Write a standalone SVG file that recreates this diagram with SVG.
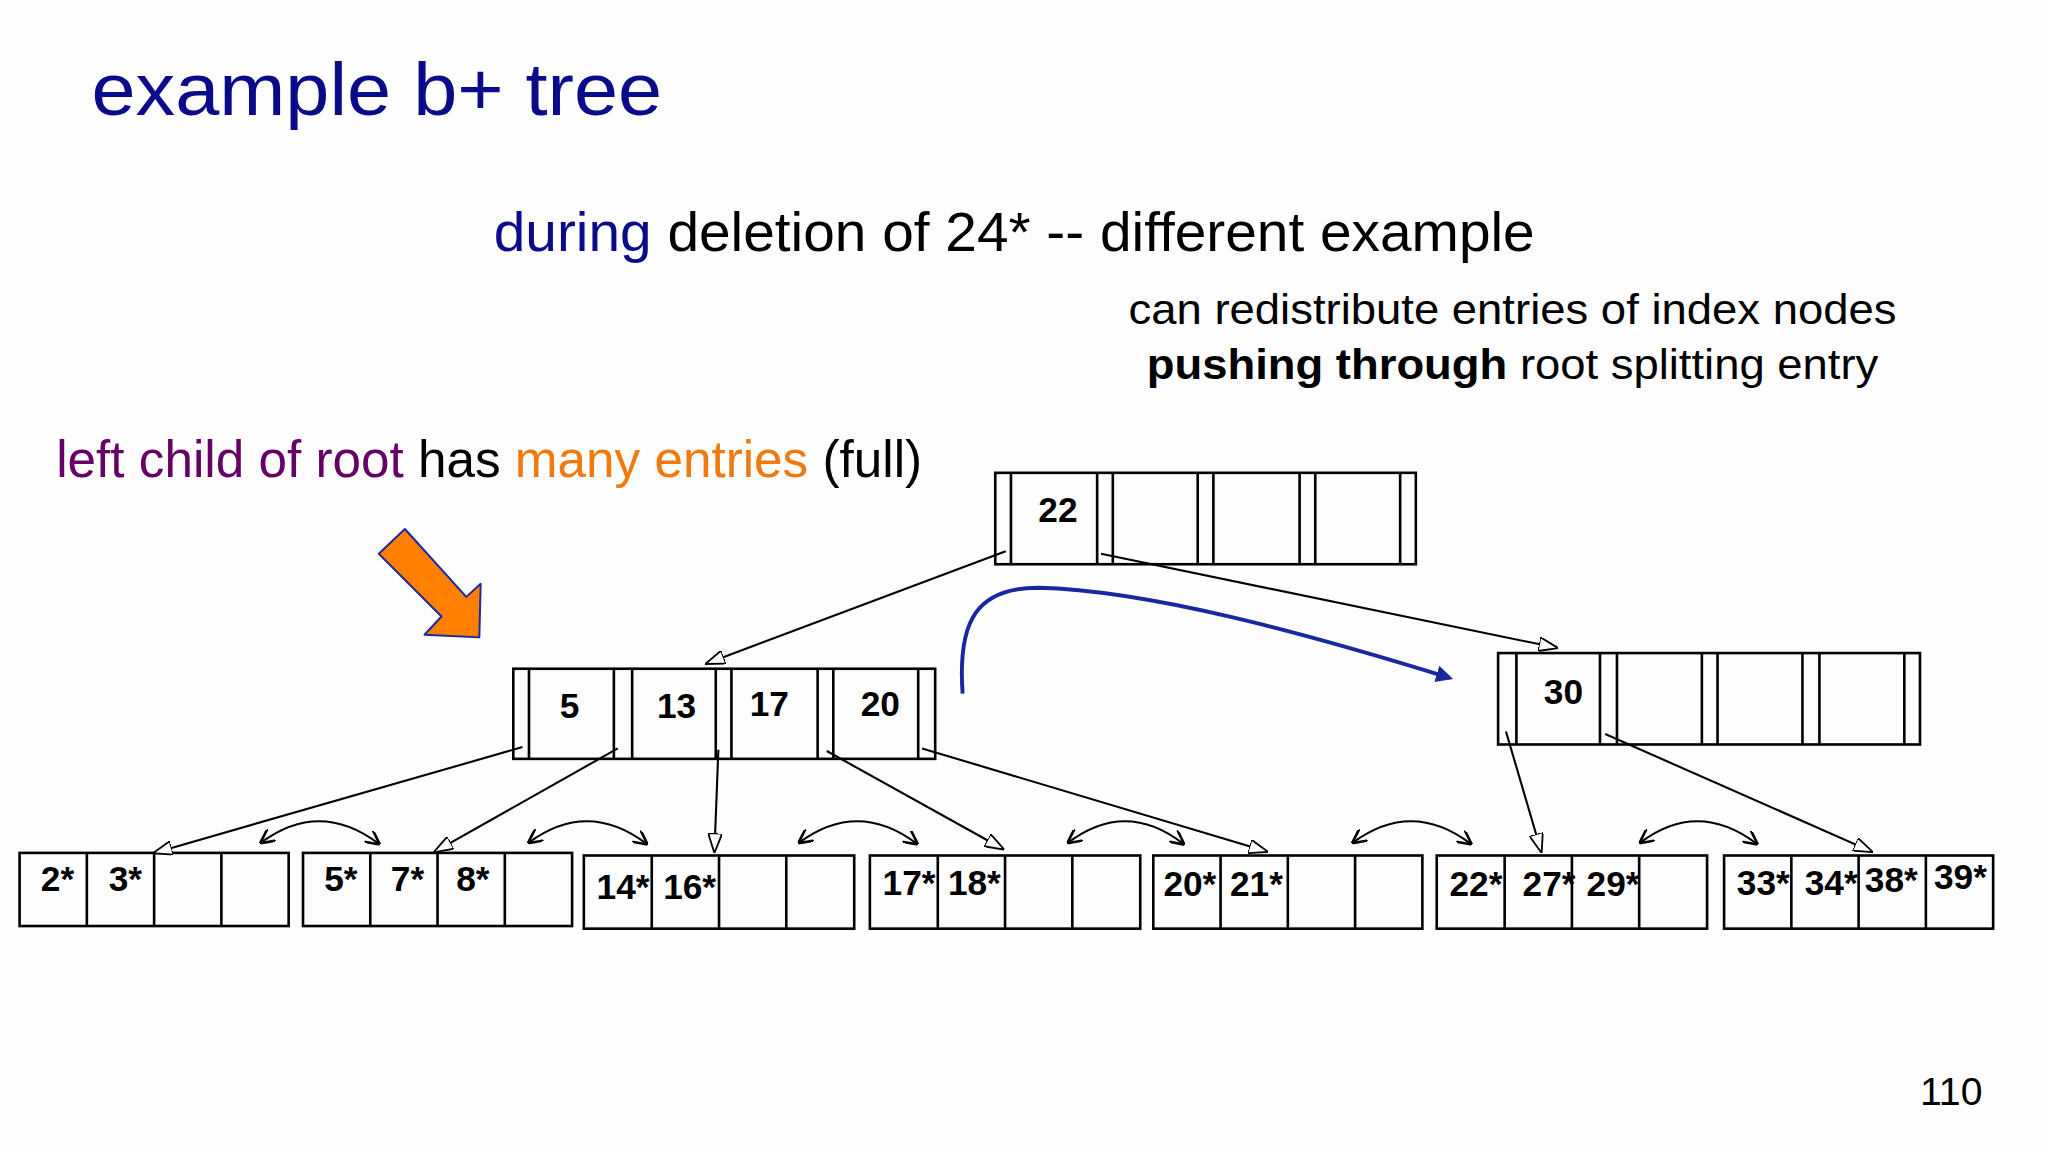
<svg xmlns="http://www.w3.org/2000/svg" width="2048" height="1152" viewBox="0 0 2048 1152">
<defs>
<style>
.t{font-family:"Liberation Sans",Arial,sans-serif}
.box{fill:none;stroke:#000;stroke-width:2}
.k{font-family:"Liberation Sans",Arial,sans-serif;font-weight:bold;font-size:27px;fill:#000;text-anchor:middle}
.c{fill:none;stroke:#000;stroke-width:1.6}
</style>
<marker id="tri" viewBox="0 0 14 10" refX="13" refY="5" markerWidth="15" markerHeight="11" markerUnits="userSpaceOnUse" orient="auto">
<path d="M0,0 L14,5 L0,10 Z" fill="#fff" stroke="#000" stroke-width="1.3"/>
</marker>
<marker id="ah" viewBox="0 0 10 10" refX="9" refY="5" markerWidth="11" markerHeight="11" markerUnits="userSpaceOnUse" orient="auto-start-reverse">
<path d="M0,0 L10,5 L0,10" fill="none" stroke="#000" stroke-width="1.8"/>
</marker>
<marker id="blue" viewBox="0 0 10 10" refX="8" refY="5" markerWidth="13" markerHeight="13" markerUnits="userSpaceOnUse" orient="auto">
<path d="M0,0 L10,5 L0,10 Z" fill="#1a28a0"/>
</marker>
</defs>
<rect width="2048" height="1152" fill="#fdfdfd"/>
<g transform="scale(1.30612)">
<g id="texts" class="t">
<text x="70" y="88" font-size="57" fill="#0b0b8a" textLength="437" lengthAdjust="spacingAndGlyphs">example b+ tree</text>
<text x="378" y="192" font-size="43" fill="#000" textLength="797" lengthAdjust="spacingAndGlyphs"><tspan fill="#0b0b8a">during</tspan> deletion of 24* -- different example</text>
<text x="864" y="248" font-size="33" fill="#000" textLength="588" lengthAdjust="spacingAndGlyphs">can redistribute entries of index nodes</text>
<text x="878" y="290" font-size="33" fill="#000" textLength="560" lengthAdjust="spacingAndGlyphs"><tspan font-weight="bold">pushing through</tspan> root splitting entry</text>
<text x="43" y="365" font-size="39" fill="#000" textLength="663" lengthAdjust="spacingAndGlyphs"><tspan fill="#660066">left child of root</tspan> has <tspan fill="#f07a10">many entries</tspan> (full)</text>
<text x="1470" y="846" font-size="30" fill="#000">110</text>
</g>
<g id="orange-arrow">
<polygon points="310,405 357,457 368,447 367,488 325,486 338,472 290,424" fill="#ff7f00" stroke="#1a28a0" stroke-width="1.5" stroke-linejoin="round"/>
</g>
<g id="root">
<rect class="box" x="762" y="362" width="322" height="70"/>
<path class="box" d="M774,362V432M840,362V432M852,362V432M917,362V432M929,362V432M995,362V432M1007,362V432M1072,362V432"/>
<text class="k" x="810" y="400">22</text>
</g>
<g id="left-index">
<rect class="box" x="393" y="512" width="323" height="69"/>
<path class="box" d="M405,512V581M470,512V581M484,512V581M548,512V581M560,512V581M626,512V581M638,512V581M703,512V581"/>
<text class="k" x="436" y="550">5</text>
<text class="k" x="518" y="550">13</text>
<text class="k" x="589" y="548">17</text>
<text class="k" x="674" y="548">20</text>
</g>
<g id="right-index">
<rect class="box" x="1147" y="500" width="323" height="70"/>
<path class="box" d="M1161,500V570M1225,500V570M1238,500V570M1303,500V570M1315,500V570M1380,500V570M1393,500V570M1458,500V570"/>
<text class="k" x="1197" y="539">30</text>
</g>
<g id="leaf1">
<rect class="box" x="15" y="653" width="206" height="56"/>
<path class="box" d="M66.5,653V709M118,653V709M169.5,653V709"/>
<text class="k" x="44" y="682">2*</text><text class="k" x="96" y="682">3*</text>
</g>
<g id="leaf2">
<rect class="box" x="232" y="653" width="206" height="56"/>
<path class="box" d="M283.5,653V709M335,653V709M386.5,653V709"/>
<text class="k" x="261" y="682">5*</text><text class="k" x="312" y="682">7*</text><text class="k" x="362" y="682">8*</text>
</g>
<g id="leaf3">
<rect class="box" x="447" y="655" width="207" height="56"/>
<path class="box" d="M499,655V711M550.5,655V711M602,655V711"/>
<text class="k" x="477" y="688">14*</text><text class="k" x="528" y="688">16*</text>
</g>
<g id="leaf4">
<rect class="box" x="666" y="655" width="207" height="56"/>
<path class="box" d="M718,655V711M769.5,655V711M821,655V711"/>
<text class="k" x="696" y="685">17*</text><text class="k" x="746" y="685">18*</text>
</g>
<g id="leaf5">
<rect class="box" x="883" y="655" width="206" height="56"/>
<path class="box" d="M934.5,655V711M986,655V711M1037.5,655V711"/>
<text class="k" x="911" y="686">20*</text><text class="k" x="962" y="686">21*</text>
</g>
<g id="leaf6">
<rect class="box" x="1100" y="655" width="207" height="56"/>
<path class="box" d="M1152,655V711M1203.5,655V711M1255,655V711"/>
<text class="k" x="1130" y="686">22*</text><text class="k" x="1186" y="686">27*</text><text class="k" x="1235" y="686">29*</text>
</g>
<g id="leaf7">
<rect class="box" x="1320" y="655" width="206" height="56"/>
<path class="box" d="M1371.5,655V711M1423,655V711M1474.5,655V711"/>
<text class="k" x="1350" y="685">33*</text><text class="k" x="1402" y="685">34*</text><text class="k" x="1448" y="683">38*</text><text class="k" x="1501" y="681">39*</text>
</g>
<g id="connectors">
<g class="c" marker-end="url(#tri)">
<line x1="770" y1="422" x2="541" y2="508"/>
<line x1="843" y1="424" x2="1192" y2="496"/>
<line x1="400" y1="572" x2="118" y2="653"/>
<line x1="473" y1="573" x2="333" y2="652"/>
<line x1="550" y1="574" x2="547" y2="652"/>
<line x1="633" y1="575" x2="768" y2="650"/>
<line x1="706" y1="573" x2="970" y2="652"/>
<line x1="1153" y1="560" x2="1180" y2="652"/>
<line x1="1229" y1="562" x2="1433" y2="652"/>
</g>
<g class="c" stroke-width="2" marker-start="url(#ah)" marker-end="url(#ah)">
<path d="M200,645 Q245,612 290,646"/>
<path d="M405,645 Q450,612 495,646"/>
<path d="M612,645 Q657,612 702,646"/>
<path d="M818,645 Q862,612 906,646"/>
<path d="M1036,645 Q1081,612 1126,646"/>
<path d="M1256,645 Q1300,612 1345,646"/>
</g>
<path d="M737,531 C733,475 748,450 795,450 C880,452 1000,485 1110,519" fill="none" stroke="#1a28a0" stroke-width="3" marker-end="url(#blue)"/>
</g>
</g>
</svg>
